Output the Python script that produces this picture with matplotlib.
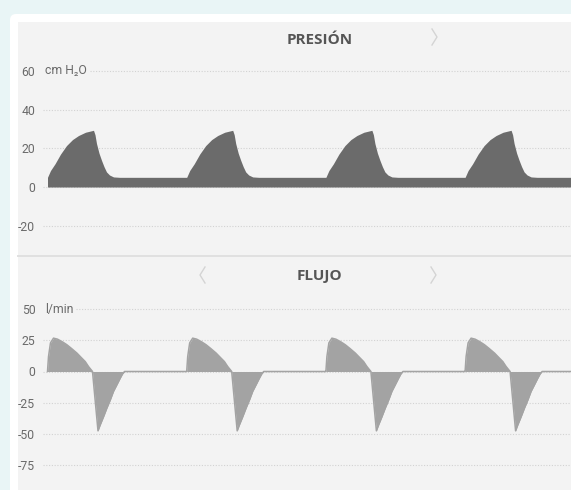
import matplotlib
matplotlib.use('Agg')
import matplotlib.pyplot as plt
from matplotlib.patches import FancyBboxPatch, Rectangle
from matplotlib.lines import Line2D
from matplotlib.transforms import IdentityTransform
from matplotlib import font_manager
import numpy as np

# ---------------- data (one breath, seconds) -------------
cycle_starts = [0.0, 4.0, 8.0, 12.0]

pressure_t = [0.0, 0.086, 0.216, 0.374, 0.546, 0.718, 0.891, 1.092, 1.322,
              1.365, 1.408, 1.480, 1.552, 1.624, 1.695, 1.782, 1.897, 2.069, 3.99]
pressure_v = [5.0, 8.5, 12.0, 17.0, 21.4, 24.5, 26.6, 28.3, 29.3,
              27.0, 22.5, 17.5, 13.8, 10.5, 7.8, 6.2, 5.2, 5.0, 5.0]

flow_t = [0.0, 0.029, 0.086, 0.172, 0.287, 0.431, 0.557, 0.690, 0.845, 0.977,
          1.083, 1.178, 1.293, 1.451, 1.514, 1.609, 1.707, 1.810, 1.897, 1.997,
          2.089, 2.155, 2.213, 3.99]
flow_v = [0.0, 12.0, 23.0, 26.8, 26.0, 23.8, 21.5, 18.5, 14.8, 11.0,
          8.0, 4.0, 0.0, -47.7, -43.0, -36.5, -29.4, -22.5, -16.0, -10.5,
          -5.4, -2.0, 0.0, 0.0]

pressure_ticks = [-20, 0, 20, 40, 60]
flow_ticks = [-75, -50, -25, 0, 25, 50]
pressure_title = 'PRESIÓN'
flow_title = 'FLUJO'
pressure_unit = 'cm H₂O'
flow_unit = 'l/min'

# ---------------- helpers ------------------------------------------------------
W, H, DPI = 571, 490, 100
avail = {f.name for f in font_manager.fontManager.ttflist}
narrow = 'Liberation Sans Narrow' if 'Liberation Sans Narrow' in avail else 'Roboto'
LAB_FONT = [narrow, 'DejaVu Sans']
TITLE_FONT = ['Open Sans', 'DejaVu Sans']


def series(t_rel, v_rel):
    t, v = [], []
    for s in cycle_starts:
        t += [s + x for x in t_rel]
        v += list(v_rel)
    return np.array(t), np.array(v)


fig = plt.figure(figsize=(W / DPI, H / DPI), dpi=DPI)
fig.patch.set_facecolor('#e9f5f6')

ident = IdentityTransform()
fig.add_artist(FancyBboxPatch((10, -30), 620, H - 14 + 30,
                              boxstyle='round,pad=0,rounding_size=6',
                              transform=ident, facecolor='white',
                              edgecolor='none', zorder=-2))
fig.add_artist(Rectangle((18, -5), 620, H - 22 + 5, transform=ident,
                         facecolor='#f3f3f3', edgecolor='none', zorder=-1.5))
fig.add_artist(Line2D([18, W], [H - 256, H - 256], transform=ident,
                      color='#e0e0e0', lw=1.4, zorder=-1))


def chevron(x, y, right=True):
    dx = 5 if right else -5
    x0 = x - dx / 2
    fig.add_artist(Line2D([x0, x0 + dx, x0], [H - (y - 8), H - y, H - (y + 8)],
                          transform=ident, color='#d4d4d4', lw=1.0, zorder=-1))


chevron(434.5, 37, True)
chevron(202.5, 275, False)
chevron(433.5, 275, True)

fig.text(320 / W, 1 - 40 / H, pressure_title, ha='center', va='center',
         fontsize=11, fontweight='bold', color='#555555', family=TITLE_FONT)
fig.text(319 / W, 1 - 276 / H, flow_title, ha='center', va='center',
         fontsize=11, fontweight='bold', color='#555555', family=TITLE_FONT)

PX_PER_S = 34.8
T0_PX = 47.5
AX_L, AX_R = 43, W
xlim = ((AX_L - T0_PX) / PX_PER_S, (AX_R - T0_PX) / PX_PER_S)


def make_axes(top, bottom, zero_px, px_per_unit, ticks, unit, unit_end_px):
    ax = fig.add_axes([AX_L / W, (H - bottom) / H, (AX_R - AX_L) / W, (bottom - top) / H])
    ax.set_zorder(2)
    ax.set_facecolor('none')
    for s in ax.spines.values():
        s.set_visible(False)
    ax.set_xlim(*xlim)
    ax.set_ylim((zero_px - bottom) / px_per_unit, (zero_px - top) / px_per_unit)
    ax.set_xticks([])
    ax.set_yticks(ticks)
    ax.set_yticklabels([str(t) for t in ticks], fontsize=8.8, color='#6a6a6a',
                       family=LAB_FONT)
    ax.tick_params(axis='y', length=0, pad=5.5)
    top_tick = max(ticks)
    for t in ticks:
        xmin = (unit_end_px - AX_L) / (AX_R - AX_L) if t == top_tick else 0
        ax.axhline(t, xmin=xmin, color='#d2d2d2', lw=0.8, ls=(0, (1, 1.5)), zorder=1)
    ax.text((45 - AX_L) / (AX_R - AX_L), top_tick, unit,
            transform=ax.get_yaxis_transform(), ha='left', va='center',
            fontsize=8.8, color='#6a6a6a', family=LAB_FONT)
    return ax


ax1 = make_axes(62, 247, 187.0, 1.935, pressure_ticks, pressure_unit, 90)
pt, pv = series(pressure_t, pressure_v)
ax1.fill_between(pt, 0, pv, color='#6b6b6b', lw=0, zorder=3)

ax2 = make_axes(298, 482, 371.5, 1.244, flow_ticks, flow_unit, 76)
ft, fv = series(flow_t, flow_v)
ax2.fill_between(ft, 0, fv, color='#a3a3a3', lw=0, zorder=3)
ax2.plot(ft, fv, color='#a3a3a3', lw=1.1, zorder=3)

fig.savefig('out.png', dpi=DPI, facecolor=fig.get_facecolor())
